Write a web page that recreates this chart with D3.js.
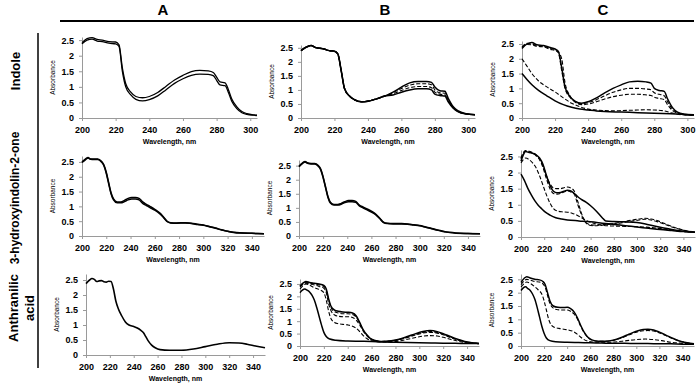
<!DOCTYPE html>
<html>
<head>
<meta charset="utf-8">
<script src="https://cdn.jsdelivr.net/npm/d3@7"></script>
<style>
  body { margin: 0; background: #fff; }
  svg { display: block; font-family: "Liberation Sans", Arial, sans-serif; }
  .tick text { font-size: 9px; font-weight: bold; fill: #000; }
  .tick line, .domain { stroke: #9a9a9a; }
</style>
</head>
<body>
<div class="chart"></div>
<script>
// column / row labels
var colNames = ["A", "B", "C"];
var rowNames = [["Indole"], ["3-hydroxyindolin-2-one"], ["Anthranilic", "acid"]];

// tick labels
var xTicksShort = [200, 220, 240, 260, 280, 300];
var xTicksLong = [200, 220, 240, 260, 280, 300, 320, 340];
var yTicks = [0, 0.5, 1, 1.5, 2, 2.5];

// ---- Indole ----  [wavelength nm, absorbance]
var indoleA1 = [[200,2.42],[203,2.55],[206,2.58],[209,2.52],[212,2.5],[216,2.45],[220,2.44],[222,2.35],[224,1.6],[226,1.1],[229,0.83],[232,0.69],[236,0.65],[240,0.69],[245,0.82],[250,1.02],[255,1.22],[260,1.37],[265,1.49],[270,1.53],[275,1.51],[278,1.46],[280,1.31],[282,1.16],[285,1.13],[287,0.91],[289,0.61],[292,0.36],[295,0.21],[298,0.14],[302,0.1],[304,0.09]];
var indoleA2 = [[200,2.38],[203,2.5],[206,2.53],[209,2.47],[212,2.45],[216,2.4],[220,2.38],[222,2.3],[224,1.5],[226,1.0],[229,0.74],[232,0.6],[236,0.55],[240,0.59],[245,0.71],[250,0.91],[255,1.11],[260,1.26],[265,1.37],[270,1.41],[275,1.4],[278,1.36],[280,1.21],[282,1.06],[285,1.04],[287,0.82],[289,0.54],[292,0.3],[295,0.17],[298,0.12],[302,0.09],[304,0.08]];

var indoleB1 = [[200,2.4],[203,2.52],[206,2.58],[209,2.5],[213,2.47],[217,2.4],[220,2.38],[222,2.28],[224,1.7],[226,1.05],[229,0.78],[232,0.65],[236,0.58],[240,0.6],[245,0.68],[250,0.78],[255,0.92],[260,1.1],[265,1.25],[270,1.3],[275,1.3],[278,1.27],[280,1.1],[283,0.97],[286,0.95],[288,0.7],[291,0.4],[294,0.25],[298,0.16],[304,0.12]];
var indoleB2 = [[200,2.4],[203,2.52],[206,2.58],[209,2.5],[213,2.47],[217,2.4],[220,2.38],[222,2.28],[224,1.7],[226,1.05],[229,0.78],[232,0.65],[236,0.58],[240,0.6],[245,0.68],[250,0.78],[255,0.9],[260,1.05],[265,1.17],[270,1.22],[275,1.22],[278,1.18],[280,1.0],[283,0.9],[286,0.88],[288,0.65],[291,0.38],[294,0.23],[298,0.15],[304,0.12]];
var indoleB3 = [[200,2.4],[203,2.52],[206,2.58],[209,2.5],[213,2.47],[217,2.4],[220,2.38],[222,2.28],[224,1.7],[226,1.05],[229,0.78],[232,0.65],[236,0.58],[240,0.6],[245,0.68],[250,0.78],[255,0.86],[260,0.98],[265,1.08],[270,1.12],[275,1.12],[278,1.08],[280,0.92],[283,0.85],[286,0.82],[288,0.6],[291,0.36],[294,0.22],[298,0.15],[304,0.12]];
var indoleB4 = [[200,2.4],[203,2.52],[206,2.58],[209,2.5],[213,2.47],[217,2.4],[220,2.38],[222,2.28],[224,1.7],[226,1.05],[229,0.78],[232,0.65],[236,0.58],[240,0.6],[245,0.68],[250,0.78],[255,0.82],[260,0.92],[265,1.0],[270,1.04],[275,1.04],[278,1.0],[280,0.85],[283,0.8],[286,0.78],[288,0.58],[291,0.35],[294,0.22],[298,0.15],[304,0.12]];

var indoleC1 = [[200,2.35],[203,2.5],[206,2.55],[209,2.47],[213,2.45],[217,2.38],[220,2.33],[222,2.25],[224,1.7],[226,1.05],[229,0.72],[232,0.57],[236,0.5],[240,0.55],[245,0.68],[250,0.85],[255,1.0],[260,1.12],[265,1.22],[270,1.24],[275,1.22],[278,1.18],[280,1.0],[283,0.93],[286,0.9],[288,0.65],[291,0.35],[294,0.2],[298,0.13],[304,0.1]];
var indoleC2 = [[200,2.4],[203,2.52],[206,2.5],[209,2.45],[213,2.42],[217,2.35],[220,2.3],[222,2.2],[224,1.6],[226,1.0],[229,0.7],[232,0.55],[236,0.48],[240,0.52],[245,0.62],[250,0.75],[255,0.87],[260,0.95],[265,1.0],[270,1.0],[275,0.98],[278,0.95],[280,0.85],[283,0.8],[286,0.75],[288,0.55],[291,0.3],[294,0.18],[298,0.12],[304,0.1]];
var indoleC3 = [[200,2.38],[203,2.48],[206,2.47],[209,2.42],[213,2.4],[217,2.32],[220,2.28],[222,2.22],[224,2.0],[226,1.2],[229,0.75],[232,0.55],[236,0.45],[240,0.47],[245,0.55],[250,0.64],[255,0.72],[260,0.77],[265,0.8],[270,0.8],[275,0.78],[278,0.76],[280,0.7],[283,0.66],[286,0.62],[288,0.45],[291,0.25],[294,0.16],[298,0.11],[304,0.1]];
var indoleC4 = [[200,2.0],[203,1.75],[206,1.5],[210,1.25],[215,1.05],[220,0.88],[225,0.68],[230,0.5],[235,0.38],[240,0.3],[245,0.27],[250,0.25],[255,0.24],[260,0.25],[265,0.26],[270,0.27],[275,0.28],[280,0.27],[285,0.25],[290,0.18],[295,0.12],[300,0.1],[304,0.09]];
var indoleC5 = [[200,1.5],[203,1.3],[206,1.12],[210,0.93],[215,0.75],[220,0.58],[225,0.45],[230,0.36],[235,0.3],[240,0.27],[245,0.24],[250,0.22],[260,0.2],[270,0.18],[280,0.16],[290,0.14],[300,0.12],[304,0.11]];

// ---- 3-hydroxyindolin-2-one ----
var hydroxA1 = [[200,2.5],[203,2.6],[205,2.65],[207,2.6],[210,2.6],[213,2.6],[216,2.52],[218,2.4],[220,2.15],[222,1.8],[224,1.45],[226,1.25],[229,1.15],[232,1.15],[235,1.2],[238,1.27],[241,1.3],[244,1.3],[247,1.27],[250,1.15],[253,1.07],[256,1.0],[260,0.9],[264,0.78],[267,0.65],[270,0.5],[273,0.45],[278,0.44],[285,0.45],[290,0.43],[295,0.4],[300,0.37],[305,0.32],[310,0.27],[315,0.21],[320,0.16],[325,0.13],[330,0.11],[340,0.09],[350,0.08]];
var hydroxA2 = [[200,2.48],[203,2.58],[205,2.63],[207,2.59],[210,2.58],[213,2.58],[216,2.5],[218,2.38],[220,2.12],[222,1.76],[224,1.42],[226,1.22],[229,1.12],[232,1.12],[235,1.16],[238,1.22],[241,1.25],[244,1.25],[247,1.22],[250,1.1],[253,1.03],[256,0.96],[260,0.87],[264,0.75],[267,0.63],[270,0.49],[273,0.44],[278,0.43],[285,0.44],[290,0.42],[295,0.39],[300,0.36],[305,0.31],[310,0.26],[315,0.2],[320,0.16],[325,0.12],[330,0.1],[340,0.09],[350,0.08]];

var hydroxB1 = [[200,2.48],[203,2.6],[205,2.65],[207,2.6],[210,2.58],[213,2.58],[216,2.5],[218,2.38],[220,2.1],[222,1.75],[224,1.4],[226,1.2],[229,1.12],[232,1.12],[235,1.16],[238,1.22],[241,1.26],[244,1.26],[247,1.23],[250,1.1],[253,1.03],[256,0.97],[260,0.88],[264,0.76],[267,0.63],[270,0.49],[273,0.45],[278,0.44],[285,0.44],[290,0.43],[295,0.4],[300,0.37],[305,0.32],[310,0.27],[315,0.21],[320,0.16],[325,0.13],[330,0.11],[340,0.09],[350,0.08]];
var hydroxB2 = [[200,2.46],[203,2.58],[205,2.63],[207,2.58],[210,2.56],[213,2.56],[216,2.48],[218,2.35],[220,2.07],[222,1.72],[224,1.37],[226,1.17],[229,1.1],[232,1.1],[235,1.13],[238,1.19],[241,1.22],[244,1.22],[247,1.2],[250,1.07],[253,1.0],[256,0.94],[260,0.85],[264,0.74],[267,0.61],[270,0.48],[273,0.44],[278,0.43],[285,0.43],[290,0.42],[295,0.39],[300,0.36],[305,0.31],[310,0.26],[315,0.2],[320,0.16],[325,0.12],[330,0.1],[340,0.09],[350,0.08]];

var hydroxC1 = [[200,2.35],[202,2.55],[204,2.65],[207,2.62],[210,2.6],[213,2.55],[216,2.45],[219,2.25],[222,1.9],[225,1.6],[228,1.42],[231,1.37],[234,1.38],[237,1.42],[240,1.45],[243,1.43],[246,1.35],[249,1.25],[252,1.17],[256,1.08],[260,0.97],[265,0.8],[270,0.6],[273,0.5],[280,0.48],[290,0.47],[300,0.45],[310,0.38],[320,0.3],[330,0.23],[340,0.18],[350,0.15]];
var hydroxC2 = [[200,2.45],[202,2.62],[204,2.68],[207,2.66],[210,2.62],[213,2.55],[216,2.42],[219,2.2],[222,1.9],[225,1.65],[228,1.52],[231,1.5],[234,1.5],[237,1.53],[240,1.55],[243,1.52],[246,1.42],[249,1.1],[252,0.75],[255,0.5],[258,0.4],[262,0.37],[268,0.38],[275,0.4],[285,0.45],[295,0.52],[302,0.56],[307,0.58],[312,0.56],[318,0.5],[325,0.4],[332,0.3],[340,0.22],[350,0.15]];
var hydroxC3 = [[200,2.42],[202,2.6],[204,2.66],[207,2.64],[210,2.6],[213,2.52],[216,2.4],[219,2.15],[222,1.8],[225,1.5],[228,1.35],[231,1.33],[234,1.35],[237,1.4],[240,1.43],[243,1.4],[246,1.32],[249,1.0],[252,0.7],[255,0.48],[258,0.38],[262,0.35],[268,0.36],[275,0.39],[285,0.43],[295,0.49],[302,0.53],[307,0.55],[312,0.53],[318,0.47],[325,0.38],[332,0.29],[340,0.21],[350,0.15]];
var hydroxC4 = [[200,2.3],[202,2.4],[204,2.45],[207,2.4],[210,2.3],[213,2.15],[216,1.9],[219,1.6],[222,1.3],[225,1.05],[228,0.88],[232,0.8],[236,0.78],[240,0.77],[244,0.74],[248,0.68],[252,0.6],[256,0.52],[260,0.46],[265,0.4],[270,0.36],[280,0.34],[290,0.33],[300,0.32],[310,0.3],[320,0.26],[330,0.21],[340,0.17],[350,0.14]];
var hydroxC5 = [[200,1.95],[203,1.75],[206,1.5],[209,1.3],[212,1.12],[215,0.98],[218,0.87],[221,0.77],[225,0.68],[230,0.6],[235,0.56],[240,0.53],[250,0.5],[260,0.47],[270,0.43],[280,0.39],[290,0.35],[300,0.31],[310,0.27],[320,0.23],[330,0.2],[340,0.17],[350,0.15]];

// ---- Anthranilic acid ----
var anthrA1 = [[200,2.38],[203,2.5],[205,2.55],[207,2.52],[209,2.45],[211,2.47],[213,2.48],[215,2.44],[217,2.43],[219,2.46],[221,2.45],[223,2.2],[225,1.8],[227,1.55],[230,1.3],[233,1.1],[236,1.0],[240,0.95],[243,0.9],[246,0.82],[248,0.75],[250,0.62],[252,0.48],[255,0.33],[258,0.24],[262,0.18],[270,0.16],[280,0.16],[290,0.2],[300,0.28],[310,0.36],[320,0.41],[328,0.4],[335,0.36],[342,0.3],[350,0.24]];

var anthrB1 = [[200,2.42],[203,2.55],[205,2.6],[208,2.56],[212,2.53],[216,2.5],[220,2.44],[222,2.3],[224,1.9],[226,1.6],[229,1.45],[232,1.4],[236,1.37],[240,1.36],[244,1.33],[247,1.22],[250,0.95],[253,0.65],[256,0.45],[259,0.3],[263,0.22],[268,0.18],[275,0.2],[283,0.27],[290,0.38],[297,0.5],[303,0.58],[309,0.62],[315,0.58],[320,0.5],[326,0.38],[332,0.27],[338,0.18],[344,0.13],[350,0.1]];
var anthrB2 = [[200,2.4],[203,2.52],[205,2.57],[208,2.53],[212,2.5],[216,2.46],[220,2.4],[222,2.25],[224,1.85],[226,1.55],[229,1.38],[232,1.33],[236,1.3],[240,1.3],[244,1.27],[247,1.17],[250,0.92],[253,0.63],[256,0.44],[259,0.3],[263,0.22],[268,0.18],[275,0.2],[283,0.26],[290,0.36],[297,0.47],[303,0.55],[309,0.58],[315,0.55],[320,0.47],[326,0.36],[332,0.26],[338,0.17],[344,0.13],[350,0.1]];
var anthrB3 = [[200,2.38],[203,2.5],[205,2.53],[208,2.5],[212,2.46],[216,2.4],[220,2.33],[222,2.15],[224,1.7],[226,1.42],[229,1.25],[232,1.2],[236,1.18],[240,1.18],[244,1.15],[247,1.05],[250,0.85],[253,0.6],[256,0.42],[259,0.28],[263,0.21],[268,0.18],[275,0.19],[283,0.25],[290,0.34],[297,0.45],[303,0.52],[309,0.55],[315,0.52],[320,0.45],[326,0.34],[332,0.25],[338,0.17],[344,0.12],[350,0.1]];
var anthrB4 = [[200,2.3],[203,2.45],[205,2.5],[208,2.45],[212,2.35],[216,2.28],[220,2.15],[222,1.85],[224,1.4],[226,1.1],[229,0.95],[232,0.9],[236,0.87],[240,0.85],[244,0.8],[247,0.72],[250,0.58],[253,0.42],[256,0.3],[259,0.22],[263,0.18],[268,0.16],[275,0.17],[283,0.2],[290,0.27],[297,0.34],[303,0.4],[309,0.42],[315,0.4],[320,0.35],[326,0.27],[332,0.2],[338,0.14],[344,0.11],[350,0.09]];
var anthrB5 = [[200,2.15],[202,2.25],[204,2.3],[206,2.25],[208,2.18],[210,2.05],[212,1.85],[214,1.55],[216,1.2],[218,0.85],[220,0.55],[222,0.38],[225,0.28],[230,0.23],[240,0.2],[250,0.19],[260,0.18],[270,0.16],[280,0.15],[290,0.14],[300,0.13],[310,0.12],[320,0.11],[330,0.11],[340,0.1],[350,0.1]];

var anthrC1 = [[200,2.38],[203,2.55],[205,2.6],[208,2.55],[212,2.5],[216,2.48],[219,2.42],[221,2.3],[223,2.0],[225,1.7],[228,1.5],[232,1.45],[236,1.44],[240,1.45],[243,1.4],[246,1.28],[249,1.05],[252,0.75],[255,0.5],[258,0.33],[262,0.22],[267,0.18],[273,0.18],[280,0.22],[287,0.32],[294,0.45],[300,0.55],[306,0.62],[310,0.63],[315,0.6],[320,0.52],[326,0.4],[332,0.28],[338,0.18],[344,0.12],[350,0.08]];
var anthrC2 = [[200,2.3],[203,2.45],[205,2.5],[208,2.47],[212,2.42],[216,2.4],[219,2.33],[221,2.2],[223,1.9],[225,1.6],[228,1.42],[232,1.36],[236,1.35],[240,1.35],[243,1.3],[246,1.2],[249,1.0],[252,0.72],[255,0.48],[258,0.32],[262,0.21],[267,0.18],[273,0.18],[280,0.21],[287,0.3],[294,0.42],[300,0.52],[306,0.57],[310,0.58],[315,0.56],[320,0.49],[326,0.38],[332,0.27],[338,0.18],[344,0.12],[350,0.08]];
var anthrC3 = [[200,2.22],[203,2.35],[205,2.4],[208,2.35],[212,2.22],[215,2.1],[218,1.95],[220,1.7],[222,1.35],[224,1.0],[226,0.8],[229,0.7],[233,0.66],[237,0.63],[241,0.6],[245,0.55],[248,0.47],[251,0.36],[254,0.26],[258,0.18],[262,0.15],[270,0.14],[280,0.15],[290,0.19],[300,0.24],[308,0.26],[315,0.24],[322,0.2],[330,0.14],[340,0.1],[350,0.07]];
var anthrC4 = [[200,2.08],[202,2.18],[204,2.22],[206,2.15],[208,2.08],[210,1.95],[212,1.75],[214,1.45],[216,1.1],[218,0.75],[220,0.48],[222,0.3],[225,0.2],[230,0.16],[240,0.14],[250,0.13],[260,0.12],[270,0.11],[280,0.1],[290,0.1],[300,0.09],[310,0.09],[320,0.08],[330,0.08],[340,0.07],[350,0.07]];

// panel layout: x0/x1 = pixel span of x axis, y0 = pixel of zero, yTop = pixel of ymax
var panels = [
  {row:0, col:0, series:[indoleA1, indoleA2], dashed:[0,0], lw:1.3, xmax:304, ticks:xTicksShort, x0:82, x1:257, y0:118, yTop:37, ymax:2.6},
  {row:0, col:1, series:[indoleB1, indoleB2, indoleB3, indoleB4], dashed:[0,1,1,0], lw:1.5, xmax:304, ticks:xTicksShort, x0:301, x1:475, y0:118, yTop:45, ymax:2.6},
  {row:0, col:2, series:[indoleC1, indoleC2, indoleC3, indoleC4, indoleC5], dashed:[0,1,1,1,0], lw:1.5, xmax:304, ticks:xTicksShort, x0:522, x1:694, y0:118, yTop:41, ymax:2.6},
  {row:1, col:0, series:[hydroxA1, hydroxA2], dashed:[0,0], lw:1.5, xmax:350, ticks:xTicksLong, x0:82, x1:264, y0:236, yTop:156, ymax:2.7},
  {row:1, col:1, series:[hydroxB1, hydroxB2], dashed:[0,0], lw:1.5, xmax:350, ticks:xTicksLong, x0:299, x1:480, y0:236, yTop:160, ymax:2.7},
  {row:1, col:2, series:[hydroxC1, hydroxC2, hydroxC3, hydroxC4, hydroxC5], dashed:[0,1,1,1,0], lw:1.5, xmax:350, ticks:xTicksLong, x0:521, x1:695, y0:237, yTop:150, ymax:2.7},
  {row:2, col:0, series:[anthrA1], dashed:[0], lw:1.6, xmax:350, ticks:xTicksLong, x0:86, x1:265, y0:355, yTop:274, ymax:2.7},
  {row:2, col:1, series:[anthrB1, anthrB2, anthrB3, anthrB4, anthrB5], dashed:[0,1,1,1,0], lw:1.5, xmax:350, ticks:xTicksLong, x0:300, x1:479, y0:346, yTop:279, ymax:2.7},
  {row:2, col:2, series:[anthrC1, anthrC2, anthrC3, anthrC4], dashed:[0,1,1,0], lw:1.5, xmax:350, ticks:xTicksLong, x0:521, x1:694, y0:346, yTop:274, ymax:2.7}
];

var svgWidth = 696, svgHeight = 385;

var svg = d3.select(".chart")
  .append("svg")
  .attr("width", svgWidth)
  .attr("height", svgHeight);

// column headers + rule
var colX = [163, 385, 603];
svg.selectAll("text.colhead")
  .data(colNames)
  .enter()
  .append("text")
  .attr("class", "colhead")
  .attr("x", (d, i) => colX[i])
  .attr("y", 15)
  .attr("text-anchor", "middle")
  .attr("font-size", "15px")
  .attr("font-weight", "bold")
  .text(d => d);

svg.append("line")
  .attr("x1", 60).attr("x2", 694)
  .attr("y1", 21).attr("y2", 21)
  .attr("stroke", "#000").attr("stroke-width", 2);

svg.append("line")
  .attr("x1", 38).attr("x2", 38)
  .attr("y1", 33).attr("y2", 368)
  .attr("stroke", "#000").attr("stroke-width", 1.5);

// row labels (rotated)
var rowY = [71, 198, 308];
var rowFont = [13, 12, 13];
rowNames.forEach(function (lines, r) {
  var g = svg.append("g")
    .attr("transform", `translate(${lines.length > 1 ? 13 : 15}, ${rowY[r]}) rotate(-90)`);
  lines.forEach(function (t, k) {
    g.append("text")
      .attr("x", 0)
      .attr("y", k * 16)
      .attr("dy", "0.35em")
      .attr("text-anchor", "middle")
      .attr("font-size", rowFont[r] + "px")
      .attr("font-weight", "bold")
      .text(t);
  });
});

var line = d3.line().curve(d3.curveMonotoneX);

panels.forEach(function (p) {
  var x = d3.scaleLinear().domain([200, p.xmax]).range([p.x0, p.x1]);
  var y = d3.scaleLinear().domain([0, p.ymax]).range([p.y0, p.yTop]);

  var g = svg.append("g");

  g.append("g")
    .attr("transform", `translate(${p.x0}, 0)`)
    .call(d3.axisLeft(y).tickValues(yTicks).tickSize(3).tickSizeOuter(0).tickPadding(5).tickFormat(d3.format("~g")));

  g.append("g")
    .attr("transform", `translate(0, ${p.y0})`)
    .call(d3.axisBottom(x).tickValues(p.ticks).tickSize(3).tickSizeOuter(0).tickPadding(6));

  line.x(d => x(d[0])).y(d => y(d[1]));

  g.selectAll("path.spec")
    .data(p.series)
    .enter()
    .append("path")
    .attr("class", "spec")
    .attr("d", line)
    .attr("fill", "none")
    .attr("stroke", "#000")
    .attr("stroke-width", (d, i) => p.dashed[i] ? 1.1 : p.lw)
    .attr("stroke-dasharray", (d, i) => p.dashed[i] ? "4,2" : null);

  // axis labels
  g.append("text")
    .attr("transform", `translate(${p.x0 - 27}, ${(p.y0 + p.yTop) / 2}) rotate(-90)`)
    .attr("text-anchor", "middle")
    .attr("font-size", "6.5px")
    .text("Absorbance");

  g.append("text")
    .attr("x", (p.x0 + p.x1) / 2)
    .attr("y", p.y0 + 26)
    .attr("text-anchor", "middle")
    .attr("font-size", "7px")
    .attr("font-weight", "bold")
    .text("Wavelength, nm");
});
</script>
</body>
</html>
